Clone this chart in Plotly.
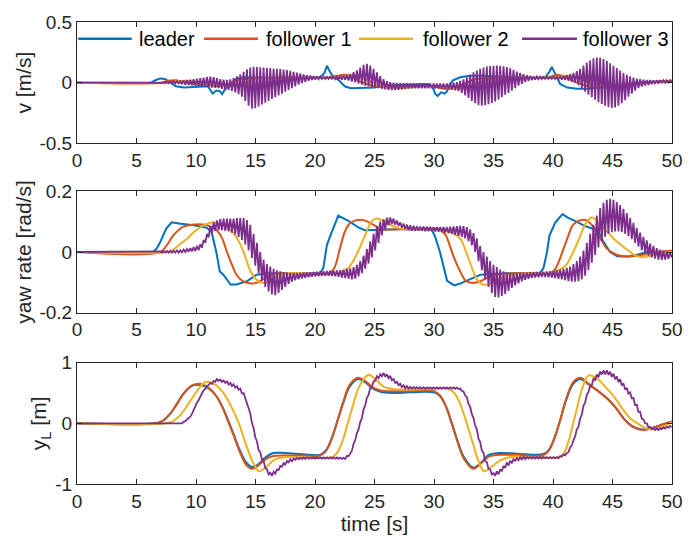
import numpy as np
import plotly.graph_objects as go
from plotly.subplots import make_subplots

# ---------------- data ----------------
# Leader / follower 1 / follower 2: (time, value) knots
v_lead_t = [0, 6.2, 6.6, 7.0, 7.4, 7.8, 8.3, 9.0, 9.7, 10.4, 11.0, 11.2, 11.4, 11.7, 12.0, 12.2, 12.4, 12.8,
            13.3, 14.0, 15.0, 17.0, 19.0, 20.4, 20.8, 21.0, 21.2, 21.5, 22.0, 22.5, 23.0, 24.0, 25.0, 25.6,
            26.5, 28.0, 29.5, 29.9, 30.1, 30.3, 30.6, 30.9, 31.1, 31.3, 31.6, 32.2, 33.0, 34.0, 35.0, 37.0,
            39.0, 39.4, 39.7, 39.9, 40.2, 40.6, 41.2, 42.0, 43.0, 44.0, 45.0, 46.0, 47.0, 48.5, 50.0]
v_lead = [0, 0, 0.02, 0.035, 0.03, 0.005, -0.03, -0.04, -0.035, -0.03, -0.03, -0.06, -0.09, -0.065, -0.07,
          -0.095, -0.06, -0.02, 0.03, 0.045, 0.042, 0.04, 0.04, 0.045, 0.08, 0.14, 0.1, 0.05, 0.02, -0.03,
          -0.045, -0.045, -0.04, -0.025, -0.02, -0.015, -0.01, -0.04, -0.09, -0.11, -0.08, -0.09, -0.07,
          -0.02, 0.02, 0.045, 0.058, 0.06, 0.05, 0.04, 0.04, 0.05, 0.09, 0.13, 0.07, -0.01, -0.04, -0.05,
          -0.05, -0.04, -0.03, -0.015, 0.0, 0.01, 0.015]

v_f1_t = [0, 7.0, 7.6, 8.2, 9.0, 10.0, 11.0, 12.0, 12.8, 13.5, 14.5, 16, 18, 20, 21.3, 22.0, 22.6, 23.2, 24.0,
          25.0, 26.0, 27.0, 28.5, 30.0, 30.8, 31.5, 32.5, 33.5, 35, 37, 39, 39.8, 40.4, 41.0, 42.0, 43.0,
          44.0, 45.0, 46.0, 47.5, 50]
v_f1 = [0, 0, 0.015, 0.02, 0.005, -0.015, -0.02, -0.03, -0.01, 0.02, 0.035, 0.04, 0.04, 0.04, 0.045, 0.06,
        0.065, 0.04, 0.0, -0.03, -0.04, -0.035, -0.025, -0.03, -0.05, -0.045, -0.01, 0.03, 0.04, 0.04, 0.04,
        0.05, 0.065, 0.05, 0.0, -0.03, -0.04, -0.03, -0.015, 0.0, 0.01]

v_f2_t = [0, 7.8, 8.5, 9.2, 10.0, 11.0, 12.0, 13.0, 13.8, 14.5, 15.5, 17, 20, 22.2, 22.9, 23.6, 24.2, 25.0,
          26.0, 27.0, 28.0, 29.5, 31.0, 31.8, 32.5, 33.5, 34.5, 36, 39, 40.6, 41.3, 42.0, 43.0, 44.0, 45.0,
          46.0, 47.0, 48.5, 50]
v_f2 = [0, 0, 0.012, 0.015, 0.005, -0.01, -0.02, -0.03, -0.01, 0.015, 0.035, 0.04, 0.04, 0.045, 0.06, 0.06,
        0.03, -0.01, -0.035, -0.045, -0.04, -0.03, -0.035, -0.05, -0.045, -0.01, 0.025, 0.04, 0.04, 0.05,
        0.06, 0.045, 0.0, -0.03, -0.035, -0.025, -0.01, 0.005, 0.015]

r_lead_t = [0, 6.4, 6.7, 7.0, 7.5, 7.95, 8.7, 9.8, 10.9, 11.3, 11.7, 12.0, 12.3, 12.9, 13.4, 14.3, 15.1, 16.0,
            18, 20.4, 20.7, 21.0, 21.3, 21.6, 21.95, 22.8, 23.6, 24.2, 25.0, 27, 29.8, 30.1, 30.5, 30.8,
            31.1, 31.7, 32.2, 33.0, 33.9, 36, 38.9, 39.2, 39.5, 39.7, 40.2, 40.8, 41.2, 42.1, 42.6, 43.4,
            43.9, 44.3, 44.8, 45.4, 46.3, 47.0, 47.9, 50]
r_lead = [0, 0, 0.012, 0.033, 0.077, 0.098, 0.093, 0.088, 0.080, 0.067, 0.001, -0.064, -0.075, -0.107,
          -0.107, -0.096, -0.075, -0.070, -0.070, -0.070, -0.053, 0.023, 0.055, 0.088, 0.12, 0.103, 0.082,
          0.072, 0.073, 0.075, 0.075, 0.05, 0.0, -0.05, -0.095, -0.11, -0.104, -0.09, -0.075, -0.07, -0.07,
          -0.053, 0.0, 0.054, 0.098, 0.125, 0.114, 0.098, 0.087, 0.076, 0.06, 0.03, 0.0, -0.014, -0.015,
          -0.01, 0.0, 0.0]

r_f1_t = [0, 7.0, 7.5, 8.1, 8.9, 9.8, 10.9, 11.7, 12.2, 12.6, 13.0, 13.4, 13.9, 14.5, 15.2, 15.8, 16.6, 18,
          21.2, 21.6, 22.1, 22.5, 22.9, 23.5, 24.1, 24.9, 25.6, 27, 30.4, 30.7, 31.0, 31.6, 32.2, 32.7, 33.3,
          33.9, 34.7, 35.5, 38, 39.8, 40.2, 40.6, 41.2, 41.7, 42.3, 42.8, 43.4, 44.0, 44.5, 45.4, 46.3, 47.4,
          48.8, 50]
r_f1 = [0, 0, 0.02, 0.055, 0.083, 0.091, 0.089, 0.073, 0.045, 0.0, -0.04, -0.075, -0.095, -0.103, -0.1,
        -0.085, -0.072, -0.07, -0.07, -0.055, 0.012, 0.066, 0.093, 0.105, 0.105, 0.09, 0.076, 0.075, 0.075,
        0.068, 0.054, -0.01, -0.064, -0.096, -0.102, -0.096, -0.08, -0.073, -0.07, -0.07, -0.055, -0.02,
        0.044, 0.09, 0.105, 0.105, 0.082, 0.044, 0.012, -0.01, -0.015, -0.01, 0.0, 0.004]

r_f2_t = [0, 7.5, 8.1, 8.7, 9.3, 9.8, 10.6, 11.5, 12.3, 13.2, 13.6, 14.0, 14.6, 15.0, 15.4, 16.0, 16.8, 17.7,
          19, 21.9, 22.4, 22.8, 23.2, 23.6, 24.2, 24.7, 25.1, 25.6, 26.3, 27.2, 29, 31.0, 31.6, 32.2, 32.7,
          33.3, 33.6, 34.1, 34.7, 35.5, 36.6, 38, 39.8, 40.2, 40.7, 41.1, 41.7, 42.3, 42.8, 43.3, 44.0, 44.6,
          45.1, 46.3, 47.1, 47.9, 49.1, 50]
r_f2 = [0, 0, 0.008, 0.027, 0.045, 0.065, 0.087, 0.098, 0.088, 0.06, 0.035, 0.0, -0.065, -0.088, -0.1, -0.1,
        -0.08, -0.07, -0.07, -0.07, -0.062, -0.053, -0.03, 0.0, 0.054, 0.098, 0.11, 0.105, 0.09, 0.077,
        0.075, 0.072, 0.062, 0.044, 0.0, -0.064, -0.09, -0.107, -0.105, -0.086, -0.075, -0.07, -0.07,
        -0.064, -0.055, -0.043, 0.0, 0.054, 0.098, 0.114, 0.087, 0.065, 0.044, 0.006, -0.015, -0.015,
        -0.004, 0.0]

y_lead_t = [0, 6.6, 7.2, 7.8, 8.4, 9.0, 9.7, 10.4, 11.1, 11.7, 12.2, 12.7, 13.2, 13.7, 14.2, 14.7, 15.2, 15.8,
            16.5, 17.5, 19, 20.4, 20.9, 21.4, 21.9, 22.4, 22.9, 23.6, 24.2, 24.8, 25.5, 26.5, 28, 30.0, 30.5,
            31.0, 31.5, 32.0, 32.5, 33.3, 33.9, 34.6, 35.5, 37, 39.1, 39.6, 40.1, 40.6, 41.1, 41.7, 42.3,
            43.0, 43.8, 44.6, 45.3, 46.0, 46.7, 47.5, 48.3, 49.2, 50]
y_lead = [0, 0, 0.04, 0.15, 0.32, 0.5, 0.62, 0.63, 0.57, 0.45, 0.28, 0.05, -0.2, -0.45, -0.64, -0.72, -0.68,
          -0.57, -0.49, -0.49, -0.51, -0.52, -0.45, -0.25, 0.05, 0.35, 0.6, 0.73, 0.68, 0.58, 0.52, 0.5,
          0.51, 0.51, 0.45, 0.28, 0.0, -0.3, -0.55, -0.73, -0.66, -0.52, -0.49, -0.5, -0.51, -0.45, -0.25,
          0.05, 0.38, 0.65, 0.73, 0.64, 0.53, 0.4, 0.25, 0.07, -0.05, -0.1, -0.08, -0.02, 0.03]
y_f1 = [0, 0, 0.04, 0.15, 0.32, 0.5, 0.63, 0.65, 0.58, 0.45, 0.27, 0.03, -0.22, -0.48, -0.68, -0.75, -0.7,
        -0.6, -0.54, -0.53, -0.53, -0.53, -0.46, -0.26, 0.05, 0.37, 0.63, 0.75, 0.7, 0.6, 0.54, 0.53, 0.53,
        0.53, 0.46, 0.28, -0.01, -0.32, -0.58, -0.75, -0.67, -0.55, -0.52, -0.52, -0.53, -0.46, -0.26, 0.05,
        0.4, 0.68, 0.75, 0.65, 0.53, 0.4, 0.25, 0.06, -0.06, -0.11, -0.08, -0.02, 0.03]

y_f2_t = [0, 7.5, 8.1, 8.7, 9.3, 9.9, 10.8, 11.6, 12.3, 12.9, 13.6, 14.2, 14.8, 15.3, 15.9, 16.6, 17.5, 19,
          21.4, 21.8, 22.3, 22.75, 23.2, 23.7, 24.5, 25.1, 25.8, 26.8, 29, 31.3, 31.7, 32.2, 32.75, 33.3,
          33.7, 34.2, 34.8, 35.5, 36.3, 38.5, 40.5, 40.9, 41.3, 41.7, 42.1, 42.5, 43.0, 43.7, 44.4, 45.1,
          45.8, 46.5, 47.1, 47.8, 48.6, 49.3, 50]
y_f2 = [0, 0, 0.04, 0.14, 0.3, 0.48, 0.68, 0.64, 0.5, 0.3, 0.0, -0.35, -0.65, -0.79, -0.72, -0.6, -0.56, -0.56,
        -0.56, -0.5, -0.3, 0.0, 0.3, 0.6, 0.8, 0.72, 0.6, 0.56, 0.56, 0.56, 0.5, 0.32, 0.0, -0.35, -0.6,
        -0.79, -0.72, -0.62, -0.56, -0.56, -0.56, -0.5, -0.3, 0.0, 0.32, 0.6, 0.79, 0.74, 0.6, 0.45, 0.25,
        0.08, 0.0, -0.08, -0.1, -0.05, 0.02]

# Follower 3: samples every 0.14 s from t = 7 s (flat zero before that)
f3_t0 = 7.0
f3_dt = 0.14
v_f3 = [
    0.004, -0.002, 0.006, -0.004, 0.008, -0.005, 0.010, -0.006, 0.012, -0.007,
    0.014, -0.010, 0.016, -0.013, 0.019, -0.016, 0.022, -0.019, 0.025, -0.022,
    0.028, -0.024, 0.032, -0.027, 0.037, -0.030, 0.042, -0.034, 0.048, -0.038,
    0.050, -0.040, 0.045, -0.042, 0.038, -0.045, 0.030, -0.050, 0.024, -0.055,
    0.022, -0.060, 0.028, -0.068, 0.038, -0.080, 0.052, -0.095, 0.068, -0.115,
    0.090, -0.150, 0.110, -0.190, 0.125, -0.215, 0.130, -0.210, 0.128, -0.195,
    0.126, -0.180, 0.124, -0.165, 0.122, -0.150, 0.120, -0.135, 0.117, -0.120,
    0.115, -0.105, 0.112, -0.090, 0.108, -0.075, 0.103, -0.060, 0.097, -0.045,
    0.090, -0.030, 0.083, -0.015, 0.076, -0.003, 0.068, 0.008, 0.062, 0.016,
    0.058, 0.022, 0.054, 0.026, 0.052, 0.028, 0.050, 0.030, 0.049, 0.031,
    0.048, 0.032, 0.048, 0.032, 0.050, 0.030, 0.053, 0.028, 0.057, 0.026,
    0.056, 0.024, 0.062, 0.018, 0.072, 0.010, 0.086, 0.002, 0.102, -0.008,
    0.125, -0.016, 0.148, -0.024, 0.155, -0.030, 0.140, -0.035, 0.115, -0.038,
    0.085, -0.045, 0.055, -0.050, 0.030, -0.055, 0.012, -0.058, 0.004, -0.060,
    0.000, -0.060, -0.002, -0.058, -0.003, -0.055, -0.004, -0.052, -0.005, -0.048,
    -0.006, -0.045, -0.007, -0.045, -0.008, -0.045, -0.008, -0.045, -0.008, -0.045,
    -0.008, -0.045, -0.008, -0.046, -0.008, -0.047, -0.008, -0.048, -0.008, -0.050,
    -0.008, -0.052, -0.006, -0.055, -0.003, -0.058, 0.000, -0.062, 0.005, -0.070,
    0.015, -0.085, 0.028, -0.105, 0.045, -0.125, 0.065, -0.150, 0.085, -0.170,
    0.100, -0.185, 0.115, -0.190, 0.125, -0.185, 0.132, -0.178, 0.137, -0.168,
    0.140, -0.155, 0.142, -0.140, 0.140, -0.120, 0.136, -0.100, 0.128, -0.085,
    0.118, -0.065, 0.105, -0.045, 0.092, -0.025, 0.080, -0.010, 0.070, 0.005,
    0.062, 0.015, 0.056, 0.022, 0.052, 0.026, 0.050, 0.028, 0.049, 0.030,
    0.048, 0.031, 0.048, 0.031, 0.048, 0.031, 0.049, 0.030, 0.050, 0.028,
    0.052, 0.026, 0.056, 0.022, 0.062, 0.016, 0.070, 0.008, 0.080, -0.002,
    0.095, -0.020, 0.115, -0.045, 0.140, -0.075, 0.165, -0.100, 0.185, -0.120,
    0.200, -0.140, 0.208, -0.160, 0.205, -0.175, 0.195, -0.190, 0.180, -0.200,
    0.160, -0.208, 0.140, -0.205, 0.120, -0.190, 0.100, -0.170, 0.080, -0.145,
    0.065, -0.115, 0.052, -0.090, 0.042, -0.065, 0.034, -0.045, 0.028, -0.032,
    0.024, -0.024, 0.022, -0.018, 0.021, -0.013, 0.020, -0.010, 0.020, -0.007,
    0.020, -0.004, 0.020, -0.001, 0.020, 0.002, 0.021, 0.006,
]
r_f3 = [
    0.002, -0.002, 0.003, -0.002, 0.003, -0.002, 0.004, -0.002, 0.004, -0.002,
    0.005, -0.002, 0.006, -0.001, 0.008, 0.000, 0.010, 0.001, 0.013, 0.002,
    0.016, 0.003, 0.020, 0.006, 0.026, 0.014, 0.040, 0.030, 0.060, 0.048,
    0.085, 0.062, 0.098, 0.070, 0.104, 0.072, 0.108, 0.072, 0.110, 0.070,
    0.110, 0.068, 0.110, 0.064, 0.110, 0.058, 0.112, 0.050, 0.112, 0.040,
    0.112, 0.025, 0.105, 0.005, 0.090, -0.020, 0.060, -0.045, 0.030, -0.070,
    0.000, -0.095, -0.025, -0.115, -0.040, -0.130, -0.048, -0.140, -0.055, -0.142,
    -0.060, -0.135, -0.064, -0.125, -0.066, -0.115, -0.068, -0.105, -0.069, -0.098,
    -0.069, -0.093, -0.069, -0.090, -0.069, -0.087, -0.068, -0.085, -0.068, -0.083,
    -0.067, -0.081, -0.066, -0.080, -0.065, -0.079, -0.064, -0.078, -0.064, -0.078,
    -0.063, -0.078, -0.062, -0.079, -0.062, -0.080, -0.061, -0.082, -0.060, -0.084,
    -0.058, -0.086, -0.056, -0.088, -0.054, -0.090, -0.050, -0.088, -0.042, -0.080,
    -0.030, -0.070, -0.012, -0.055, 0.010, -0.038, 0.035, -0.018, 0.060, 0.005,
    0.085, 0.030, 0.100, 0.055, 0.108, 0.075, 0.113, 0.088, 0.114, 0.092,
    0.110, 0.090, 0.104, 0.086, 0.098, 0.080, 0.094, 0.076, 0.090, 0.072,
    0.088, 0.070, 0.086, 0.070, 0.085, 0.070, 0.084, 0.070, 0.084, 0.069,
    0.083, 0.069, 0.083, 0.068, 0.082, 0.068, 0.082, 0.067, 0.082, 0.066,
    0.082, 0.064, 0.082, 0.062, 0.083, 0.060, 0.084, 0.057, 0.085, 0.053,
    0.086, 0.050, 0.085, 0.045, 0.082, 0.036, 0.075, 0.022, 0.062, 0.000,
    0.045, -0.030, 0.020, -0.060, 0.000, -0.090, -0.015, -0.115, -0.030, -0.135,
    -0.042, -0.148, -0.050, -0.150, -0.058, -0.145, -0.064, -0.138, -0.068, -0.128,
    -0.070, -0.118, -0.070, -0.110, -0.070, -0.103, -0.069, -0.097, -0.068, -0.092,
    -0.068, -0.088, -0.067, -0.086, -0.066, -0.084, -0.066, -0.083, -0.065, -0.082,
    -0.065, -0.082, -0.064, -0.083, -0.063, -0.084, -0.062, -0.086, -0.060, -0.088,
    -0.058, -0.090, -0.055, -0.093, -0.052, -0.096, -0.048, -0.098, -0.040, -0.098,
    -0.030, -0.096, -0.015, -0.090, 0.005, -0.078, 0.030, -0.060, 0.060, -0.035,
    0.090, -0.010, 0.120, 0.015, 0.145, 0.035, 0.162, 0.050, 0.172, 0.060,
    0.175, 0.065, 0.172, 0.068, 0.165, 0.068, 0.155, 0.065, 0.142, 0.060,
    0.128, 0.052, 0.112, 0.042, 0.096, 0.030, 0.080, 0.018, 0.064, 0.006,
    0.050, -0.004, 0.038, -0.012, 0.028, -0.018, 0.020, -0.022, 0.013, -0.025,
    0.008, -0.026, 0.004, -0.025, 0.001, -0.022, -0.001, -0.018,
]
y_f3 = [
    0.003, -0.003, 0.003, -0.003, 0.003, -0.003, 0.003, -0.003, 0.003, -0.003,
    0.004, -0.003, 0.004, 0.000, 0.024, 0.036, 0.064, 0.081, 0.109, 0.156,
    0.228, 0.268, 0.340, 0.380, 0.452, 0.492, 0.544, 0.565, 0.617, 0.629,
    0.667, 0.653, 0.699, 0.685, 0.731, 0.699, 0.721, 0.683, 0.705, 0.667,
    0.691, 0.639, 0.667, 0.615, 0.643, 0.588, 0.611, 0.554, 0.573, 0.493,
    0.495, 0.405, 0.357, 0.230, 0.168, 0.005, -0.078, -0.230, -0.295, -0.440,
    -0.475, -0.595, -0.615, -0.735, -0.755, -0.842, -0.815, -0.865, -0.798, -0.830,
    -0.760, -0.772, -0.704, -0.717, -0.658, -0.680, -0.621, -0.643, -0.593, -0.625,
    -0.585, -0.601, -0.569, -0.593, -0.565, -0.588, -0.563, -0.585, -0.560, -0.582,
    -0.560, -0.580, -0.560, -0.580, -0.560, -0.580, -0.560, -0.580, -0.560, -0.580,
    -0.560, -0.581, -0.561, -0.582, -0.562, -0.583, -0.563, -0.585, -0.565, -0.586,
    -0.567, -0.586, -0.539, -0.541, -0.494, -0.450, -0.338, -0.275, -0.163, -0.100,
    0.020, 0.085, 0.230, 0.292, 0.420, 0.467, 0.585, 0.598, 0.692, 0.705,
    0.775, 0.743, 0.809, 0.775, 0.830, 0.768, 0.807, 0.745, 0.782, 0.708,
    0.730, 0.667, 0.683, 0.628, 0.654, 0.600, 0.626, 0.578, 0.615, 0.572,
    0.598, 0.574, 0.597, 0.573, 0.596, 0.572, 0.595, 0.571, 0.594, 0.570,
    0.592, 0.570, 0.592, 0.570, 0.592, 0.570, 0.592, 0.570, 0.592, 0.570,
    0.592, 0.570, 0.592, 0.570, 0.592, 0.570, 0.591, 0.569, 0.589, 0.566,
    0.577, 0.534, 0.525, 0.457, 0.431, 0.320, 0.270, 0.151, 0.087, -0.037,
    -0.100, -0.255, -0.310, -0.450, -0.488, -0.625, -0.638, -0.751, -0.760, -0.842,
    -0.820, -0.866, -0.792, -0.838, -0.758, -0.790, -0.702, -0.734, -0.646, -0.694,
    -0.625, -0.649, -0.593, -0.619, -0.573, -0.607, -0.561, -0.595, -0.550, -0.590,
    -0.556, -0.580, -0.556, -0.580, -0.556, -0.580, -0.556, -0.580, -0.556, -0.580,
    -0.555, -0.575, -0.555, -0.575, -0.555, -0.575, -0.555, -0.575, -0.555, -0.575,
    -0.539, -0.549, -0.511, -0.527, -0.491, -0.476, -0.396, -0.364, -0.276, -0.216,
    -0.100, -0.056, 0.080, 0.145, 0.290, 0.342, 0.470, 0.518, 0.616, 0.629,
    0.737, 0.711, 0.804, 0.758, 0.852, 0.805, 0.875, 0.805, 0.875, 0.798,
    0.851, 0.765, 0.818, 0.726, 0.773, 0.681, 0.725, 0.622, 0.658, 0.555,
    0.584, 0.488, 0.511, 0.412, 0.416, 0.300, 0.304, 0.188, 0.192, 0.076,
    0.065, 0.001, -0.002, -0.066, -0.058, -0.095, -0.072, -0.109, -0.085, -0.110,
    -0.078, -0.097, -0.068, -0.086, -0.056, -0.074, -0.044, -0.062,
]

series_names = ["leader", "follower 1", "follower 2", "follower 3"]
colors = ["#0072BD", "#D95319", "#EDB120", "#7E2F8E"]

# y-axis setup per panel
y_titles = ["v [m/s]", "yaw rate [rad/s]", "y<sub>L</sub> [m]"]
y_ranges = [[-0.5, 0.5], [-0.2, 0.2], [-1, 1]]
y_ticks = [[-0.5, 0, 0.5], [-0.2, 0, 0.2], [-1, 0, 1]]
y_ticktext = [["-0.5", "0", "0.5"], ["-0.2", "0", "0.2"], ["-1", "0", "1"]]
x_ticks = list(range(0, 51, 5))

# ---------------- figure ----------------
FONT = "Liberation Sans, Arial, Helvetica, sans-serif"
INK = "#262626"
TICK_SIZE = 19
TITLE_SIZE = 21
LEGEND_SIZE = 20

fig = make_subplots(rows=3, cols=1, shared_xaxes=False, vertical_spacing=0.0)


def f3_times(vals):
    return [0.0] + list(np.round(f3_t0 + f3_dt * np.arange(len(vals)), 2))


panels = [
    [(v_lead_t, v_lead, "linear"), (v_f1_t, v_f1, "spline"), (v_f2_t, v_f2, "spline"),
     (f3_times(v_f3), [0.0] + v_f3, "linear")],
    [(r_lead_t, r_lead, "linear"), (r_f1_t, r_f1, "spline"), (r_f2_t, r_f2, "spline"),
     (f3_times(r_f3), [0.0] + r_f3, "linear")],
    [(y_lead_t, y_lead, "spline"), (y_lead_t, y_f1, "spline"), (y_f2_t, y_f2, "spline"),
     (f3_times(y_f3), [0.0] + y_f3, "linear")],
]

for row, traces in enumerate(panels, start=1):
    for k, (tt, vv, shape) in enumerate(traces):
        fig.add_trace(
            go.Scatter(x=tt, y=vv, mode="lines", name=series_names[k], showlegend=False,
                       line=dict(color=colors[k], width=1.8 if k == 3 else 2.0, shape=shape)),
            row=row, col=1)

# panel heights: 124 px each inside a 472 px plotting area
domains = [[0.7373, 1.0], [0.3708, 0.6335], [0.0, 0.2627]]
for i in range(3):
    ax = "" if i == 0 else str(i + 1)
    fig.layout["xaxis" + ax].update(
        domain=[0, 1], range=[0, 50], tickvals=x_ticks, ticks="inside", ticklen=5,
        tickcolor=INK, showline=True, linecolor=INK, linewidth=1, mirror="ticks",
        showgrid=False, zeroline=False, tickfont=dict(size=TICK_SIZE, color=INK, family=FONT),
    )
    fig.layout["yaxis" + ax].update(
        domain=domains[i], range=y_ranges[i], tickvals=y_ticks[i], ticktext=y_ticktext[i],
        ticks="inside", ticklen=5, tickcolor=INK, showline=True, linecolor=INK, linewidth=1,
        mirror="ticks", showgrid=False, zeroline=False,
        tickfont=dict(size=TICK_SIZE, color=INK, family=FONT),
        title=dict(text=y_titles[i], font=dict(size=TITLE_SIZE, color=INK, family=FONT), standoff=2),
    )
fig.layout.xaxis3.title = dict(text="time [s]", font=dict(size=TITLE_SIZE, color=INK, family=FONT),
                               standoff=2)

# legend row along the top of the first panel
leg_items = [(0.002, 0.092, 0.1008), (0.2134, 0.3042, 0.3143), (0.474, 0.5647, 0.578), (0.748, 0.8403, 0.847)]
for k, (x0, x1, xt) in enumerate(leg_items):
    fig.add_shape(type="line", xref="x domain", yref="y domain", x0=x0, x1=x1, y0=0.863, y1=0.863,
                  line=dict(color=colors[k], width=2.5))
    fig.add_annotation(xref="x domain", yref="y domain", x=xt, y=0.863, text=series_names[k],
                       showarrow=False, xanchor="left", yanchor="middle",
                       font=dict(size=LEGEND_SIZE, color="#000000", family=FONT))

fig.update_layout(
    width=699, height=545, margin=dict(l=77, r=27, t=12, b=61),
    paper_bgcolor="white", plot_bgcolor="white",
    font=dict(family=FONT, color=INK),
)

fig.write_html("out.html")
